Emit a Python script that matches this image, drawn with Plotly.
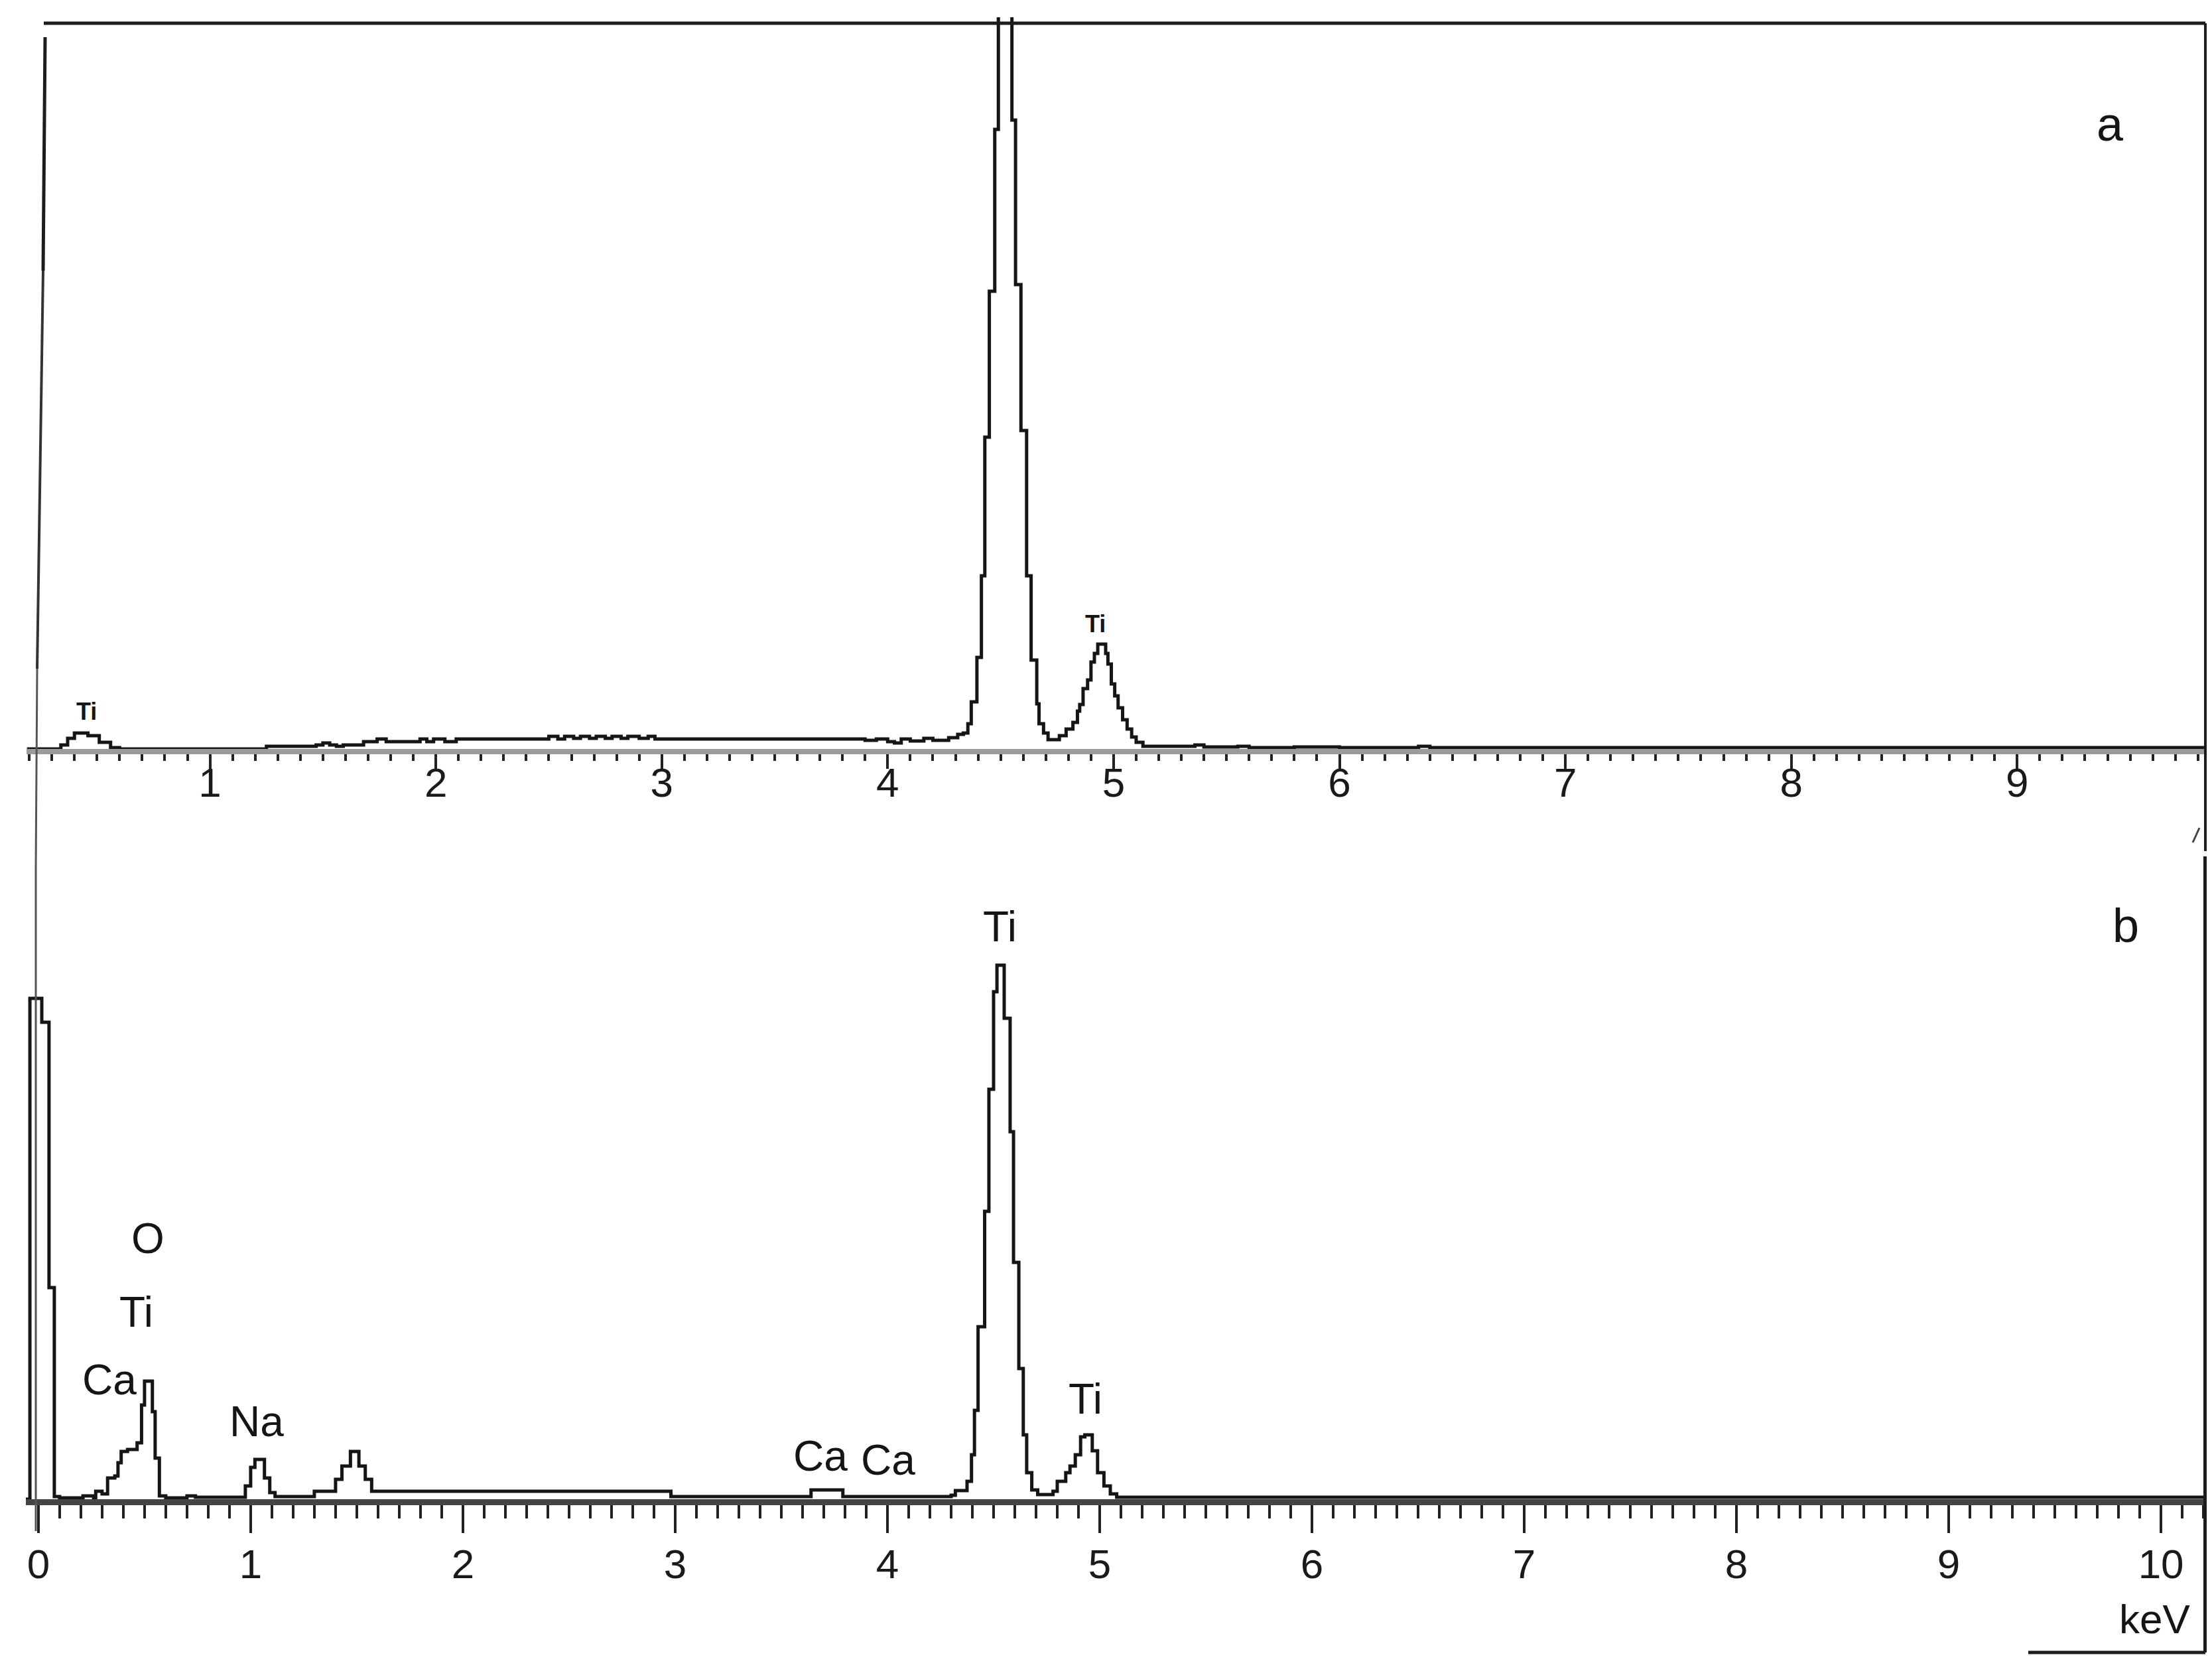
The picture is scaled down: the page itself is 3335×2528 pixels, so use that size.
import plotly.graph_objects as go

W, H = 3335, 2528

# ---- panel a spectrum (keV, counts in arbitrary units) ----
a_energy = [0.19, 0.34, 0.37, 0.40, 0.46, 0.51, 0.56, 0.60, 1.25, 1.47,
            1.50, 1.53, 1.56, 1.59, 1.68, 1.74, 1.78, 1.93, 1.96, 1.99,
            2.04, 2.09, 2.50, 2.54, 2.57, 2.61, 2.64, 2.68, 2.71, 2.75,
            2.78, 2.82, 2.85, 2.90, 2.94, 2.97, 3.90, 3.95, 4.00, 4.03,
            4.06, 4.10, 4.16, 4.20, 4.27, 4.31, 4.335, 4.355, 4.37, 4.395,
            4.415, 4.43, 4.45, 4.474, 4.49, 4.52, 4.55, 4.566, 4.59, 4.615,
            4.635, 4.66, 4.67, 4.69, 4.71, 4.76, 4.79, 4.82, 4.84, 4.85,
            4.865, 4.885, 4.90, 4.915, 4.93, 4.965, 4.975, 4.99, 5.005, 5.02,
            5.04, 5.06, 5.08, 5.10, 5.13, 5.36, 5.40, 5.55, 5.60, 5.80,
            6.00, 6.35, 6.40, 9.83]
a_counts = [0, 6, 16, 24, 20, 10, 2, 0, 4, 6,
            9, 6, 4, 6, 11, 15, 11, 15, 11, 15,
            11, 15, 19, 15, 19, 16, 19, 16, 19, 16,
            19, 16, 19, 16, 19, 15, 13, 15, 11, 9,
            15, 12, 16, 13, 17, 22, 24, 38, 71, 138,
            261, 470, 690, 934, 1500, 1480, 948, 700, 480, 261,
            134, 68, 38, 24, 14, 20, 30, 40, 57, 67,
            91, 104, 131, 144, 158, 144, 128, 98, 80, 62,
            44, 30, 18, 10, 4, 6, 3, 4, 2, 3,
            2, 4, 2, 2]

# ---- panel b spectrum ----
b_energy = [-0.059, -0.04, 0.016, 0.05, 0.075, 0.10, 0.21, 0.26, 0.27, 0.30,
            0.326, 0.36, 0.375, 0.39, 0.42, 0.465, 0.486, 0.50, 0.537, 0.55,
            0.57, 0.60, 0.70, 0.74, 0.975, 1.00, 1.02, 1.065, 1.09, 1.115,
            1.30, 1.40, 1.43, 1.47, 1.51, 1.54, 1.57, 2.98, 3.64, 3.79,
            4.30, 4.32, 4.375, 4.396, 4.41, 4.427, 4.458, 4.478, 4.50, 4.516,
            4.55, 4.578, 4.594, 4.619, 4.64, 4.656, 4.68, 4.708, 4.78, 4.80,
            4.84, 4.86, 4.885, 4.91, 4.93, 4.965, 4.99, 5.02, 5.05, 5.08,
            10.21]
b_counts = [0, 755, 719, 319, 4, 2, 5, 2, 12, 8,
            32, 35, 55, 72, 75, 85, 142, 178, 132, 62,
            5, 2, 5, 3, 20, 48, 60, 32, 10, 4,
            12, 30, 50, 72, 50, 30, 12, 4, 14, 4,
            6, 13, 27, 67, 134, 260, 434, 618, 765, 805,
            725, 554, 357, 197, 97, 40, 14, 7, 12, 27,
            40, 50, 67, 94, 97, 73, 40, 20, 8, 3,
            3]

# peak labels
a_labels = ["Ti", "Ti"]
a_label_x = [0.455, 4.92]
a_label_y = [57, 189]

b_labels = ["O", "Ti", "Ca", "Na", "Ca", "Ca", "Ti", "Ti"]
b_label_x = [0.516, 0.4625, 0.334, 1.028, 3.684, 4.003, 4.531, 4.934]
b_label_y = [393, 282, 180, 117, 65, 59, 863, 151]


def px(x):
    return x / W


def py(y):
    return 1 - y / H


FONT = "Liberation Sans, Arial, sans-serif"
INK = "#151515"

fig = go.Figure()

fig.add_trace(go.Scatter(
    x=a_energy, y=a_counts, mode="lines", line_shape="hv",
    line=dict(color=INK, width=5), xaxis="x", yaxis="y", hoverinfo="skip",
))
fig.add_trace(go.Scatter(
    x=b_energy, y=b_counts, mode="lines", line_shape="hv",
    line=dict(color=INK, width=5), xaxis="x2", yaxis="y2", hoverinfo="skip",
))

hidden = dict(visible=False, showgrid=False, zeroline=False, fixedrange=True)

a_dom = [px(32), px(3317)]
a_rng = [0.188, 9.833]
b_dom = [px(31), px(3317)]
b_rng = [-0.059, 10.209]


def main_axis(domain, rng, anchor, linecolor, linewidth, major, minor_len, standoff):
    return dict(
        domain=domain, range=rng, anchor=anchor,
        showline=True, linecolor=linecolor, linewidth=linewidth,
        ticks="outside", ticklen=major, tickwidth=4, tickcolor="#222",
        tick0=0, dtick=1, showgrid=False, zeroline=False,
        tickfont=dict(family=FONT, size=62, color="#1a1a1a"),
        ticklabelstandoff=standoff,
        minor=dict(ticks="outside", tick0=0, dtick=0.1, ticklen=minor_len,
                   tickwidth=4, tickcolor="#222", showgrid=False),
    )


def half_axis(domain, rng, anchor, overlay, length):
    return dict(
        domain=domain, range=rng, anchor=anchor, overlaying=overlay,
        showline=False, ticks="outside", ticklen=length, tickwidth=4,
        tickcolor="#222", tick0=0.5, dtick=1, showticklabels=False,
        showgrid=False, zeroline=False,
    )


fig.update_layout(
    width=W, height=H,
    margin=dict(l=0, r=0, t=0, b=0),
    paper_bgcolor="white", plot_bgcolor="rgba(0,0,0,0)",
    showlegend=False,
    xaxis=main_axis(a_dom, a_rng, "y", "#9b9b9b", 8, 22, 10, -32),
    xaxis3=half_axis(a_dom, a_rng, "y", "x", 15),
    yaxis=dict(domain=[py(1121), py(18)], range=[0, 1103], **hidden),
    xaxis2=main_axis(b_dom, b_rng, "y2", "#454545", 9, 42, 20, -6),
    xaxis4=half_axis(b_dom, b_rng, "y2", "x2", 26),
    yaxis2=dict(domain=[py(2252), py(1280)], range=[0, 972], **hidden),
)

annotations = []
for t, x, y in zip(a_labels, a_label_x, a_label_y):
    annotations.append(dict(
        text=f"<b>{t}</b>", x=x, y=y, xref="x", yref="y", showarrow=False,
        font=dict(family=FONT, size=36, color=INK),
        xanchor="center", yanchor="middle",
    ))
for t, x, y in zip(b_labels, b_label_x, b_label_y):
    annotations.append(dict(
        text=t, x=x, y=y, xref="x2", yref="y2", showarrow=False,
        font=dict(family=FONT, size=64, color=INK),
        xanchor="center", yanchor="middle",
    ))
annotations += [
    dict(text="a", x=px(3173), y=py(179), xref="paper", yref="paper",
         showarrow=False, font=dict(family=FONT, size=72, color=INK),
         xanchor="center", yanchor="middle"),
    dict(text="b", x=px(3197), y=py(1387), xref="paper", yref="paper",
         showarrow=False, font=dict(family=FONT, size=72, color=INK),
         xanchor="center", yanchor="middle"),
    dict(text="keV", x=px(3240), y=py(2432), xref="paper", yref="paper",
         showarrow=False, font=dict(family=FONT, size=62, color=INK),
         xanchor="center", yanchor="middle"),
]
fig.update_layout(annotations=annotations)

# frame lines of the scanned figure
def seg(x0, y0, x1, y1, w, color="#1c1c1c"):
    return dict(type="line", xref="paper", yref="paper",
                x0=px(x0), y0=py(y0), x1=px(x1), y1=py(y1),
                line=dict(color=color, width=w))


fig.update_layout(shapes=[
    seg(58, 27, 3317, 27, 5),
    seg(3317, 27, 3317, 1275, 4),
    seg(3298, 1262, 3308, 1240, 3, "#444"),
    seg(3317, 1283, 3317, 2483, 6),
    seg(3050, 2483, 3317, 2483, 5),
    seg(60, 48, 57, 400, 5),
    seg(57, 400, 48, 1000, 4, "#333"),
    seg(48, 1000, 46, 1300, 3, "#555"),
    seg(46, 1300, 46, 2300, 3, "#555"),
])

fig.write_html("out.html")
